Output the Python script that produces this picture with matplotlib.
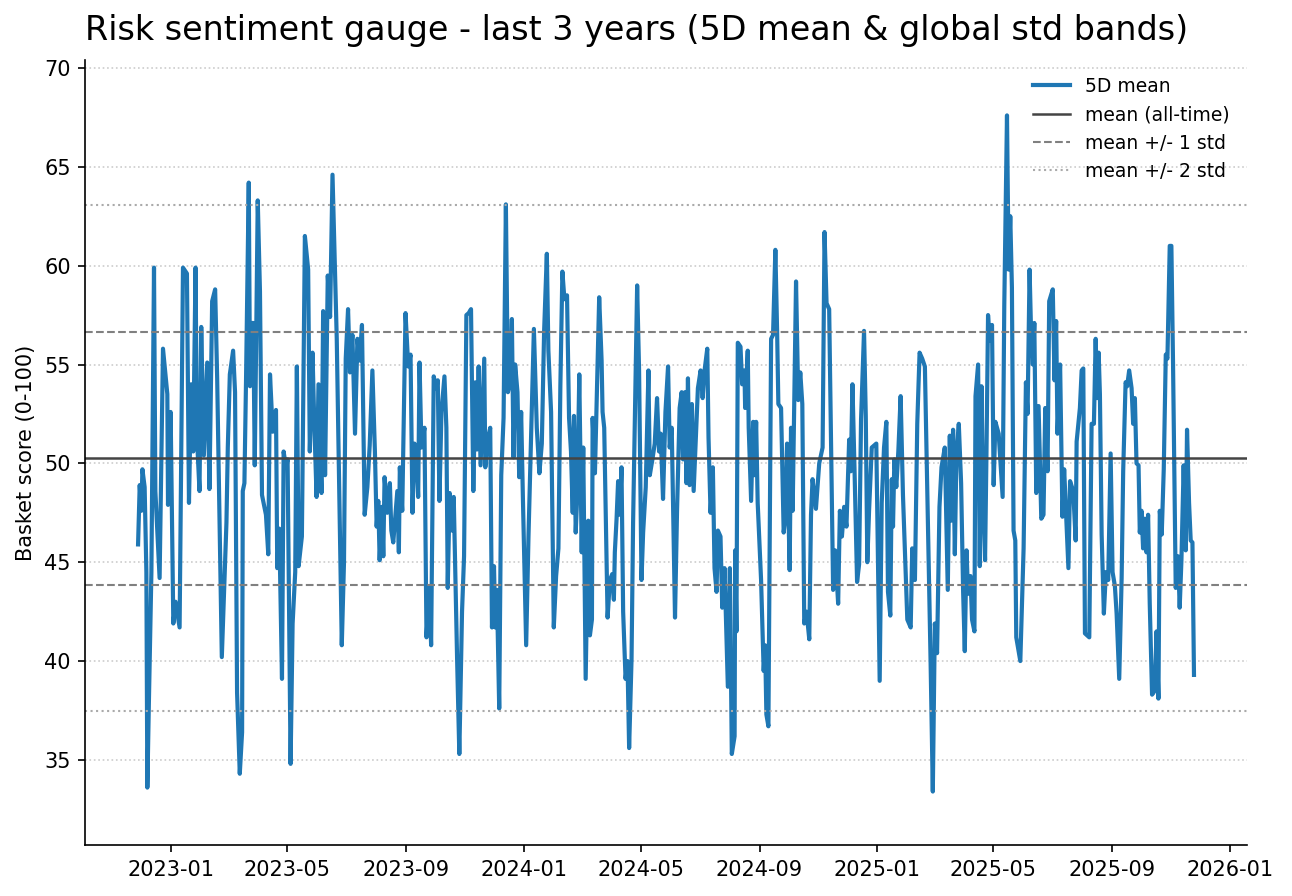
#!/usr/bin/env python3
"""Risk sentiment gauge: 5D mean with all-time mean and std bands."""

import matplotlib
matplotlib.use("Agg")
import matplotlib.dates as mdates
import matplotlib.pyplot as plt
import pandas as pd

BASE_DATE = "2023-01-01"

# days since 2023-01-01
days = [
    -34.4, -32.7, -31.0, -29.9, -27.6, -25.8, -24.8, -23.4, -20.6, -17.9,
    -16.5, -12.1, -8.6, -4.1, -3.4, -0.7, 2.1, 4.4, 8.6, 12.1,
    16.2, 18.3, 20.6, 22.7, 25.1, 26.5, 29.2, 31.0, 33.7, 37.2,
    39.5, 42.3, 45.4, 47.5, 52.3, 57.1, 58.5, 60.6, 64.0, 66.0,
    68.1, 70.9, 73.3, 74.0, 75.7, 77.4, 80.2, 81.5, 83.3, 84.9,
    86.4, 89.5, 91.8, 93.9, 98.0, 100.4, 102.2, 105.0, 108.4, 109.7,
    111.8, 114.6, 116.3, 118.7, 120.4, 123.5, 125.6, 128.3, 130.0, 131.8,
    135.2, 138.3, 141.7, 143.4, 146.2, 147.9, 150.4, 152.4, 155.5, 157.2,
    159.2, 162.0, 164.4, 166.9, 171.3, 176.5, 178.8, 180.6, 183.0, 185.0,
    187.5, 190.2, 192.7, 195.0, 197.4, 200.2, 203.0, 205.4, 208.2, 210.8,
    212.6, 214.3, 215.7, 218.1, 219.5, 220.8, 223.6, 226.3, 227.8, 229.8,
    232.2, 234.0, 235.6, 236.6, 239.1, 242.5, 245.3, 247.7, 249.7, 251.8,
    253.9, 255.6, 257.0, 259.0, 262.1, 264.2, 267.0, 269.0, 271.7, 274.2,
    275.9, 277.6, 279.7, 282.8, 284.8, 286.2, 288.2, 290.7, 292.4, 295.9,
    298.2, 301.0, 303.1, 305.5, 307.9, 310.3, 312.7, 314.8, 316.5, 318.2,
    320.2, 324.0, 325.1, 327.5, 330.2, 332.0, 334.1, 335.4, 337.1, 339.5,
    341.6, 344.0, 346.4, 348.5, 350.9, 352.6, 354.3, 356.0, 358.4, 360.2,
    362.2, 364.0, 367.4, 369.8, 375.4, 378.4, 381.1, 383.6, 386.0, 388.8,
    390.4, 393.2, 396.0, 398.4, 400.8, 402.8, 404.9, 407.0, 409.7, 411.8,
    413.8, 415.6, 416.9, 418.7, 420.3, 422.4, 424.9, 426.5, 429.0, 431.7,
    433.4, 435.5, 436.2, 438.6, 443.0, 445.5, 446.5, 448.2, 451.7, 454.1,
    456.5, 458.2, 459.2, 461.0, 462.6, 464.4, 466.1, 467.8, 470.3, 472.3,
    474.0, 476.5, 478.1, 480.6, 482.3, 484.3, 486.8, 488.5, 491.2, 494.0,
    495.4, 498.1, 500.5, 502.9, 505.0, 506.7, 509.1, 511.6, 514.3, 516.0,
    518.1, 520.1, 521.5, 523.6, 526.3, 528.4, 529.8, 531.8, 533.3, 534.9,
    536.6, 539.0, 540.8, 545.2, 548.0, 550.1, 552.1, 554.9, 556.2, 558.3,
    560.7, 562.4, 564.5, 565.9, 568.6, 570.4, 572.8, 576.2, 578.3, 580.3,
    583.2, 583.8, 585.1, 586.5, 589.3, 591.0, 593.4, 594.1, 596.8, 597.8,
    600.3, 602.4, 603.7, 605.5, 607.1, 610.6, 613.3, 614.8, 616.1, 618.2,
    621.0, 623.0, 625.4, 627.2, 628.5, 631.3, 634.0, 635.7, 637.5, 640.2,
    641.6, 643.3, 646.8, 649.1, 651.2, 653.3, 655.3, 657.7, 660.5, 662.3,
    663.9, 665.7, 667.4, 670.8, 674.3, 676.3, 678.4, 681.1, 685.2, 687.3,
    690.4, 692.2, 694.3, 696.6, 699.0, 701.8, 703.5, 705.2, 707.3, 710.0,
    712.1, 714.1, 717.2, 719.0, 720.6, 722.4, 725.2, 729.9, 733.4, 735.5,
    737.9, 740.3, 742.0, 744.4, 745.9, 747.2, 748.6, 750.6, 752.7, 755.1,
    757.5, 762.0, 765.5, 767.1, 769.9, 772.3, 774.7, 777.4, 780.2, 786.1,
    788.4, 790.5, 792.8, 795.3, 797.4, 800.8, 803.9, 806.0, 807.4, 809.4,
    811.2, 812.9, 815.3, 817.7, 819.8, 821.5, 823.3, 824.9, 827.4, 829.0,
    831.5, 832.6, 835.3, 837.0, 838.8, 840.4, 842.5, 843.9, 845.6, 847.3,
    849.7, 851.4, 853.2, 856.6, 860.7, 862.4, 865.2, 866.9, 868.6, 870.3,
    872.0, 873.8, 874.8, 879.0, 882.4, 884.8, 886.5, 888.6, 889.9, 892.0,
    893.5, 895.5, 897.9, 900.7, 903.0, 904.8, 907.2, 908.9, 912.6, 914.4,
    916.1, 917.5, 920.2, 922.6, 924.4, 928.8, 930.5, 933.8, 936.3, 937.3,
    940.7, 942.5, 944.2, 945.9, 950.4, 952.8, 955.2, 957.0, 958.6, 960.1,
    961.4, 963.2, 965.5, 967.6, 970.0, 972.5, 974.5, 976.9, 978.7, 981.4,
    983.9, 985.5, 988.0, 989.6, 991.7, 994.2, 995.8, 997.6, 999.3, 1001.4,
    1002.7, 1004.5, 1006.1, 1007.9, 1009.6, 1011.3, 1013.0, 1015.4, 1018.2, 1020.0,
    1022.0, 1023.4, 1025.4, 1027.5, 1029.6, 1031.3, 1033.7, 1035.4, 1037.1, 1039.9,
    1042.3, 1044.0, 1045.8, 1048.1, 1050.2, 1051.6, 1053.7, 1055.4, 1057.2, 1058.8,
]

mean_5d = [
    45.9, 48.9, 47.6, 49.7, 48.8, 44.5, 33.6, 37.4, 44.5, 59.9,
    48.6, 44.2, 55.8, 53.5, 47.9, 52.6, 41.9, 43.0, 41.7, 59.9,
    59.6, 48.0, 54.0, 50.6, 59.9, 51.4, 48.6, 56.9, 50.4, 55.1,
    48.7, 58.2, 58.8, 54.3, 40.2, 47.0, 50.8, 54.5, 55.7, 53.6,
    38.4, 34.3, 36.4, 48.6, 49.0, 54.3, 64.2, 53.9, 57.1, 57.1,
    49.9, 63.3, 58.7, 48.4, 47.4, 45.4, 54.5, 51.6, 52.7, 44.7,
    46.7, 39.1, 50.6, 49.8, 50.2, 34.8, 41.9, 44.5, 54.9, 44.8,
    46.3, 61.5, 59.8, 50.6, 55.6, 52.3, 48.3, 54.0, 48.5, 57.7,
    49.4, 59.5, 57.4, 64.6, 56.3, 40.8, 45.0, 55.3, 57.8, 54.6,
    56.5, 51.5, 56.3, 55.2, 57.0, 47.4, 48.8, 50.9, 54.7, 50.6,
    46.8, 48.1, 45.1, 47.8, 45.3, 49.3, 47.5, 49.0, 46.6, 46.0,
    47.5, 48.6, 45.5, 49.8, 47.6, 57.6, 54.9, 55.5, 47.5, 51.0,
    50.4, 48.3, 55.1, 50.8, 51.8, 41.2, 43.7, 40.8, 54.4, 53.8,
    54.2, 48.1, 52.6, 54.4, 51.8, 43.7, 48.5, 46.6, 48.3, 40.1,
    35.3, 42.5, 45.3, 57.5, 57.6, 57.8, 48.6, 54.1, 50.7, 54.9,
    49.9, 55.3, 49.8, 51.2, 51.8, 41.7, 44.8, 41.7, 43.6, 37.6,
    49.4, 52.3, 63.1, 53.6, 54.1, 57.3, 50.3, 55.0, 53.6, 49.3,
    52.6, 48.3, 40.8, 46.3, 56.8, 51.8, 49.5, 51.0, 56.7, 60.6,
    55.7, 52.6, 41.7, 44.3, 45.7, 53.9, 59.7, 58.3, 58.5, 52.3,
    50.6, 47.5, 52.4, 46.5, 48.4, 54.5, 45.5, 50.8, 39.1, 47.1,
    41.3, 42.1, 52.3, 49.5, 58.4, 55.2, 52.6, 51.8, 42.2, 44.1,
    44.4, 43.1, 45.5, 47.2, 49.1, 47.4, 49.8, 42.5, 39.1, 40.0,
    35.6, 40.1, 47.0, 54.3, 59.0, 54.7, 44.1, 46.5, 48.8, 54.7,
    49.4, 50.2, 51.0, 53.3, 50.6, 51.5, 48.2, 52.6, 54.9, 50.8,
    51.8, 46.1, 42.2, 47.6, 52.8, 53.6, 50.2, 53.6, 49.0, 54.3,
    48.9, 53.0, 48.6, 53.8, 54.7, 53.3, 54.7, 55.8, 51.3, 47.5,
    49.8, 44.7, 43.5, 46.6, 46.3, 42.7, 44.7, 38.7, 44.7, 35.3,
    36.2, 45.6, 41.5, 56.1, 55.9, 54.0, 54.7, 52.8, 55.7, 51.8,
    48.1, 52.1, 49.4, 52.1, 48.0, 44.1, 39.5, 40.8, 37.3, 36.7,
    56.3, 56.5, 60.8, 56.7, 53.0, 52.8, 46.5, 47.2, 51.0, 44.6,
    51.8, 47.6, 59.2, 53.2, 54.6, 53.0, 41.9, 42.5, 41.1, 47.4,
    49.2, 48.4, 47.7, 50.0, 50.8, 61.7, 58.1, 57.8, 43.6, 45.6,
    42.9, 47.6, 46.3, 47.8, 46.8, 51.2, 49.6, 54.0, 49.8, 44.0,
    44.9, 52.2, 56.7, 52.4, 45.0, 47.6, 50.8, 51.0, 39.0, 48.0,
    50.8, 52.1, 43.5, 42.3, 49.2, 46.8, 50.2, 48.8, 50.6, 53.4,
    48.4, 42.1, 41.7, 45.7, 44.1, 52.0, 55.6, 55.3, 54.9, 40.0,
    33.4, 41.9, 40.4, 47.8, 49.8, 50.8, 43.6, 51.4, 47.1, 51.7,
    45.4, 50.5, 52.0, 49.0, 43.5, 40.5, 45.6, 43.4, 44.3, 42.1,
    41.5, 53.4, 55.0, 44.8, 53.9, 48.5, 45.1, 50.3, 57.5, 56.2,
    57.0, 48.9, 52.1, 51.5, 48.3, 58.0, 67.6, 59.8, 62.5, 58.9,
    46.6, 46.1, 41.2, 40.0, 45.7, 54.1, 52.5, 59.8, 57.1, 55.0,
    57.1, 48.5, 52.9, 47.2, 47.4, 52.8, 49.6, 58.2, 58.8, 54.2,
    57.2, 51.5, 55.0, 47.3, 49.7, 44.7, 49.1, 48.6, 46.1, 51.1,
    52.8, 54.7, 54.8, 41.4, 41.2, 52.0, 52.0, 56.3, 53.3, 55.6,
    53.5, 46.4, 42.4, 44.5, 44.1, 50.5, 44.5, 43.8, 42.4, 39.1,
    44.2, 49.6, 54.1, 53.9, 54.7, 53.8, 52.0, 53.3, 50.0, 49.9,
    46.5, 47.6, 45.7, 47.2, 45.5, 47.4, 42.9, 38.3, 38.5, 41.5,
    38.1, 47.6, 46.4, 49.7, 55.5, 55.3, 61.0, 61.0, 55.1, 43.7,
    45.3, 42.7, 45.1, 49.9, 45.6, 51.7, 48.0, 46.1, 46.0, 39.3,
]

MEAN_ALL = 50.25
STD_ALL = 6.4


def main() -> None:
    dates = pd.Timestamp(BASE_DATE) + pd.to_timedelta(days, unit="D")

    fig = plt.figure(figsize=(1292 / 150, 896 / 150), dpi=150)
    ax = fig.add_axes([0.066, 0.057, 0.899, 0.876])

    ax.plot(dates, mean_5d, color="#1f77b4", linewidth=2.0, label="5D mean")
    ax.axhline(MEAN_ALL, color="#444444", linewidth=1.2, label="mean (all-time)")
    ax.axhline(MEAN_ALL + STD_ALL, color="gray", linestyle="--", linewidth=1.0,
               label="mean +/- 1 std")
    ax.axhline(MEAN_ALL - STD_ALL, color="gray", linestyle="--", linewidth=1.0)
    ax.axhline(MEAN_ALL + 2 * STD_ALL, color="#aaaaaa", linestyle=":", linewidth=1.0,
               label="mean +/- 2 std")
    ax.axhline(MEAN_ALL - 2 * STD_ALL, color="#aaaaaa", linestyle=":", linewidth=1.0)

    ax.set_ylim(30.7, 70.4)
    ax.set_yticks(range(35, 71, 5))
    ax.xaxis.set_major_locator(mdates.MonthLocator(bymonth=[1, 5, 9]))
    ax.xaxis.set_major_formatter(mdates.DateFormatter("%Y-%m"))
    ax.tick_params(labelsize=10)

    ax.set_ylabel("Basket score (0-100)", fontsize=10)
    ax.set_title("Risk sentiment gauge - last 3 years (5D mean & global std bands)",
                 loc="left", fontsize=16, pad=9.5)
    ax.grid(axis="y", linestyle=":", color="#cccccc", linewidth=0.8)
    ax.spines["top"].set_visible(False)
    ax.spines["right"].set_visible(False)
    ax.legend(loc="upper right", frameon=False, fontsize=9)

    fig.savefig("out.png", dpi=150)
    plt.close(fig)


if __name__ == "__main__":
    main()
